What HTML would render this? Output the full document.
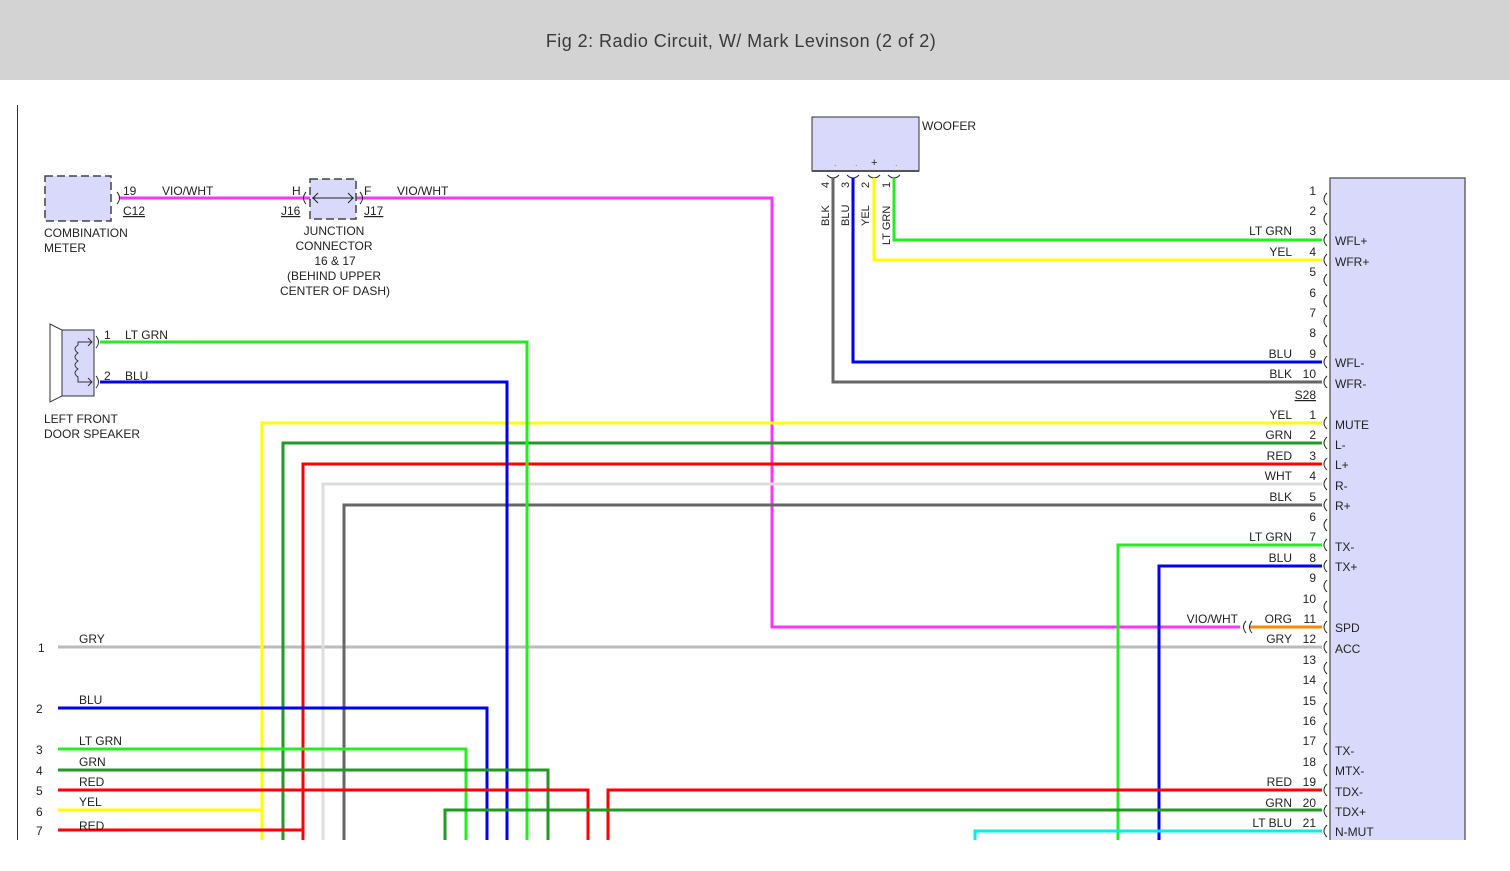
<!DOCTYPE html>
<html><head><meta charset="utf-8"><style>
html,body{margin:0;padding:0;background:#fff;}
svg{display:block;font-family:"Liberation Sans",Arial,sans-serif;}
</style></head><body>
<svg width="1510" height="871" viewBox="0 0 1510 871" xmlns="http://www.w3.org/2000/svg">
<rect x="0" y="0" width="1510" height="80" fill="#d3d3d3"/>
<text x="741" y="47" font-size="18" fill="#3a3a3a" text-anchor="middle" letter-spacing="0.45">Fig 2: Radio Circuit, W/ Mark Levinson (2 of 2)</text>
<line x1="17.5" y1="105" x2="17.5" y2="840" stroke="#333" stroke-width="1"/>

<rect x="1330" y="178" width="135" height="680" fill="#d9d9fb" stroke="#666" stroke-width="1.5"/>
<rect x="812" y="117" width="107" height="54" fill="#d9d9fb" stroke="#333" stroke-width="1"/>
<line x1="812" y1="171" x2="919" y2="171" stroke="#555" stroke-width="2"/>
<text x="922" y="130" font-size="12" fill="#222">WOOFER</text>
<g font-size="9" fill="#c60">
<text x="834" y="166">.</text><text x="855" y="166">.</text><text x="895" y="166">.</text></g>
<text x="871" y="166" font-size="11" fill="#222">+</text>
<g fill="none" stroke="#222" stroke-width="1">
<path d="M827,175 q6,6 12,0"/><path d="M847,175 q6,6 12,0"/><path d="M868,175 q6,6 12,0"/><path d="M888,175 q6,6 12,0"/>
</g>
<g font-size="11" fill="#222">
<text transform="translate(829,226) rotate(-90)">BLK</text>
<text transform="translate(829,188) rotate(-90)">4</text>
<text transform="translate(849,226) rotate(-90)">BLU</text>
<text transform="translate(849,188) rotate(-90)">3</text>
<text transform="translate(869,226) rotate(-90)">YEL</text>
<text transform="translate(869,188) rotate(-90)">2</text>
<text transform="translate(890,245) rotate(-90)">LT GRN</text>
<text transform="translate(890,188) rotate(-90)">1</text>
</g>

<g fill="none" stroke-width="3">
<polyline points="894,178 894,240 1322,240" stroke="#22ee22"/>
<polyline points="874,178 874,260 1322,260" stroke="#ffff00"/>
<polyline points="853,178 853,362 1322,362" stroke="#0000ee"/>
<polyline points="833,178 833,382 1322,382" stroke="#666"/>
<polyline points="120,198 772,198 772,627 1240,627" stroke="#ff33ff"/>
<line x1="1250" y1="627" x2="1322" y2="627" stroke="#ff8800"/>
<line x1="58" y1="647" x2="1322" y2="647" stroke="#bbbbbb"/>
<polyline points="262,840 262,423 1322,423" stroke="#ffff00"/>
<polyline points="283,840 283,443 1322,443" stroke="#229922"/>
<polyline points="303,840 303,464 1322,464" stroke="#ff0000"/>
<polyline points="323,840 323,484 1322,484" stroke="#dddddd"/>
<polyline points="344,840 344,505 1322,505" stroke="#666"/>
<polyline points="100,342 527,342 527,840" stroke="#22ee22"/>
<polyline points="100,382 507,382 507,840" stroke="#0000ee"/>
<polyline points="1118,840 1118,545 1322,545" stroke="#22ee22"/>
<polyline points="1159,840 1159,566 1322,566" stroke="#0000ee"/>
<polyline points="58,708 487,708 487,840" stroke="#0000ee"/>
<polyline points="58,749 466,749 466,840" stroke="#22ee22"/>
<polyline points="58,770 548,770 548,840" stroke="#229922"/>
<polyline points="58,790 588,790 588,840" stroke="#ff0000"/>
<polyline points="58,810 262,810" stroke="#ffff00"/>
<polyline points="58,830 303,830" stroke="#ff0000"/>
<polyline points="608,840 608,790 1322,790" stroke="#ff0000"/>
<polyline points="445,840 445,810 1322,810" stroke="#229922"/>
<polyline points="975,840 975,831 1322,831" stroke="#00eeee"/>
</g>
<g fill="none" stroke="#222" stroke-width="1">
<path d="M1246,621 q-5,6 0,12"/><path d="M1252,621 q-5,6 0,12"/>
</g>
<text x="1238" y="623" font-size="12" fill="#222" text-anchor="end">VIO/WHT</text>

<g fill="none" stroke="#222" stroke-width="1">
<path d="M1327,193 q-6,6 0,12"/><path d="M1327,213 q-6,6 0,12"/><path d="M1327,234 q-6,6 0,12"/><path d="M1327,254 q-6,6 0,12"/><path d="M1327,274 q-6,6 0,12"/><path d="M1327,295 q-6,6 0,12"/><path d="M1327,315 q-6,6 0,12"/><path d="M1327,335 q-6,6 0,12"/><path d="M1327,356 q-6,6 0,12"/><path d="M1327,376 q-6,6 0,12"/>
<path d="M1327,417 q-6,6 0,12"/><path d="M1327,437 q-6,6 0,12"/><path d="M1327,458 q-6,6 0,12"/><path d="M1327,478 q-6,6 0,12"/><path d="M1327,499 q-6,6 0,12"/><path d="M1327,519 q-6,6 0,12"/><path d="M1327,539 q-6,6 0,12"/><path d="M1327,560 q-6,6 0,12"/><path d="M1327,580 q-6,6 0,12"/><path d="M1327,601 q-6,6 0,12"/><path d="M1327,621 q-6,6 0,12"/><path d="M1327,641 q-6,6 0,12"/><path d="M1327,662 q-6,6 0,12"/><path d="M1327,682 q-6,6 0,12"/><path d="M1327,703 q-6,6 0,12"/><path d="M1327,723 q-6,6 0,12"/><path d="M1327,743 q-6,6 0,12"/><path d="M1327,764 q-6,6 0,12"/><path d="M1327,784 q-6,6 0,12"/><path d="M1327,805 q-6,6 0,12"/><path d="M1327,825 q-6,6 0,12"/>
</g>
<g font-size="12" fill="#222" text-anchor="end">
<text x="1316" y="195">1</text><text x="1316" y="215">2</text><text x="1316" y="235">3</text><text x="1316" y="256">4</text><text x="1316" y="276">5</text><text x="1316" y="297">6</text><text x="1316" y="317">7</text><text x="1316" y="337">8</text><text x="1316" y="358">9</text><text x="1316" y="378">10</text>
<text x="1292" y="235">LT GRN</text><text x="1292" y="256">YEL</text><text x="1292" y="358">BLU</text><text x="1292" y="378">BLK</text>
<text x="1316" y="399" text-decoration="underline">S28</text>
<text x="1316" y="419">1</text><text x="1316" y="439">2</text><text x="1316" y="460">3</text><text x="1316" y="480">4</text><text x="1316" y="501">5</text><text x="1316" y="521">6</text><text x="1316" y="541">7</text><text x="1316" y="562">8</text><text x="1316" y="582">9</text><text x="1316" y="603">10</text><text x="1316" y="623">11</text><text x="1316" y="643">12</text><text x="1316" y="664">13</text><text x="1316" y="684">14</text><text x="1316" y="705">15</text><text x="1316" y="725">16</text><text x="1316" y="745">17</text><text x="1316" y="766">18</text><text x="1316" y="786">19</text><text x="1316" y="807">20</text><text x="1316" y="827">21</text>
<text x="1292" y="419">YEL</text><text x="1292" y="439">GRN</text><text x="1292" y="460">RED</text><text x="1292" y="480">WHT</text><text x="1292" y="501">BLK</text><text x="1292" y="541">LT GRN</text><text x="1292" y="562">BLU</text><text x="1292" y="623">ORG</text><text x="1292" y="643">GRY</text><text x="1292" y="786">RED</text><text x="1292" y="807">GRN</text><text x="1292" y="827">LT BLU</text>
</g>
<g font-size="12" fill="#222">
<text x="1335" y="245">WFL+</text><text x="1335" y="266">WFR+</text><text x="1335" y="367">WFL-</text><text x="1335" y="388">WFR-</text>
<text x="1335" y="429">MUTE</text><text x="1335" y="449">L-</text><text x="1335" y="469">L+</text><text x="1335" y="490">R-</text><text x="1335" y="510">R+</text><text x="1335" y="551">TX-</text><text x="1335" y="571">TX+</text><text x="1335" y="632">SPD</text><text x="1335" y="653">ACC</text><text x="1335" y="755">TX-</text><text x="1335" y="775">MTX-</text><text x="1335" y="796">TDX-</text><text x="1335" y="816">TDX+</text><text x="1335" y="836">N-MUT</text>
</g>

<rect x="45" y="176" width="66" height="45" fill="#d9d9fb" stroke="#444" stroke-width="1.5" stroke-dasharray="8,4"/>
<path d="M117,192 q5,6 0,12" fill="none" stroke="#222"/>
<rect x="310" y="179" width="46" height="40" fill="#d9d9fb" stroke="#444" stroke-width="1.5" stroke-dasharray="8,4"/>
<g fill="none" stroke="#222" stroke-width="1">
<path d="M306,192 q-5,6 0,12"/><path d="M360,192 q5,6 0,12"/>
<line x1="312" y1="198" x2="354" y2="198"/><path d="M318,193 l-5,5 5,5"/><path d="M348,193 l5,5 -5,5"/>
</g>
<g font-size="12" fill="#222">
<text x="123" y="195">19</text><text x="162" y="195">VIO/WHT</text>
<text x="123" y="215" text-decoration="underline">C12</text>
<text x="292" y="195">H</text><text x="281" y="215" text-decoration="underline">J16</text>
<text x="364" y="195">F</text><text x="364" y="215" text-decoration="underline">J17</text>
<text x="397" y="195">VIO/WHT</text>
<text x="44" y="237">COMBINATION</text><text x="44" y="252">METER</text>
<g text-anchor="middle"><text x="334" y="235">JUNCTION</text><text x="334" y="250">CONNECTOR</text><text x="335" y="265">16 &amp; 17</text><text x="334" y="280">(BEHIND UPPER</text><text x="335" y="295">CENTER OF DASH)</text></g>
</g>
<path d="M50,324 L62,330 L62,396 L50,402 Z" fill="#fff" stroke="#333"/>
<rect x="62" y="330" width="32" height="66" fill="#d9d9fb" stroke="#333"/>
<g fill="none" stroke="#333" stroke-width="1">
<path d="M92,342 H78 V345 q-6,4 0,8 q-6,4 0,8 q-6,4 0,8 q-6,4 0,8 V382 H92"/>
<path d="M88,338 l4,4 -4,4"/><path d="M88,378 l4,4 -4,4"/>
<path d="M96,336 q5,6 0,12"/><path d="M96,376 q5,6 0,12"/>
</g>
<g font-size="12" fill="#222">
<text x="104" y="339">1</text><text x="125" y="339">LT GRN</text>
<text x="104" y="380">2</text><text x="125" y="380">BLU</text>
<text x="44" y="423">LEFT FRONT</text><text x="44" y="438">DOOR SPEAKER</text>
<text x="79" y="643">GRY</text><text x="79" y="704">BLU</text><text x="79" y="745">LT GRN</text><text x="79" y="766">GRN</text><text x="79" y="786">RED</text><text x="79" y="806">YEL</text><text x="79" y="830">RED</text>
<text x="38" y="652">1</text><text x="36" y="713">2</text><text x="36" y="754">3</text><text x="36" y="775">4</text><text x="36" y="795">5</text><text x="36" y="816">6</text><text x="36" y="835">7</text>
</g>
<rect x="0" y="840" width="1510" height="31" fill="#fff"/>
</svg>
</body></html>
